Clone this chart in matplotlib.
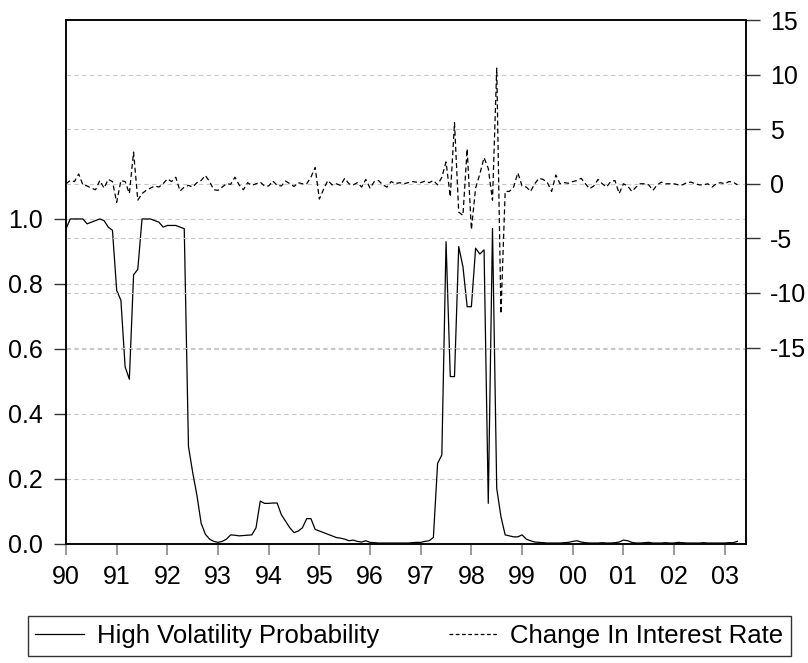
import numpy as np
import matplotlib
matplotlib.use("Agg")
import matplotlib.pyplot as plt
from matplotlib.lines import Line2D

plt.rcParams["font.family"] = ["Liberation Sans", "DejaVu Sans"]
plt.rcParams["axes.unicode_minus"] = False

# monthly data, 1990M01 onwards
start_year = 1990
high_vol_prob = [
    0.97, 1.0, 1.0, 1.0, 1.0, 0.985, 0.99, 0.995, 1.0, 0.995,
    0.975, 0.965, 0.78, 0.75, 0.545, 0.507, 0.828, 0.845, 1.0, 1.0,
    1.0, 0.995, 0.99, 0.975, 0.98, 0.98, 0.98, 0.975, 0.97, 0.30,
    0.22, 0.15, 0.064, 0.03, 0.015, 0.008, 0.005, 0.008, 0.015, 0.028,
    0.027, 0.025, 0.026, 0.027, 0.028, 0.05, 0.132, 0.125, 0.125, 0.126,
    0.126, 0.09, 0.07, 0.05, 0.035, 0.04, 0.05, 0.078, 0.078, 0.045,
    0.04, 0.035, 0.03, 0.025, 0.02, 0.018, 0.015, 0.01, 0.012, 0.008,
    0.006, 0.01, 0.005, 0.004, 0.003, 0.003, 0.003, 0.003, 0.003, 0.003,
    0.003, 0.003, 0.004, 0.005, 0.005, 0.008, 0.01, 0.02, 0.248, 0.274,
    0.93, 0.515, 0.515, 0.915, 0.853, 0.73, 0.73, 0.91, 0.892, 0.905,
    0.125, 0.971, 0.171, 0.084, 0.028, 0.025, 0.022, 0.022, 0.028, 0.015,
    0.01, 0.006, 0.005, 0.004, 0.003, 0.003, 0.003, 0.003, 0.004, 0.005,
    0.008, 0.01, 0.006, 0.004, 0.003, 0.003, 0.003, 0.004, 0.003, 0.003,
    0.004, 0.006, 0.012, 0.01, 0.005, 0.003, 0.003, 0.004, 0.005, 0.003,
    0.003, 0.003, 0.004, 0.003, 0.003, 0.005, 0.004, 0.003, 0.003, 0.003,
    0.003, 0.004, 0.003, 0.003, 0.003, 0.003, 0.003, 0.004, 0.004, 0.008,
]
rate_change = [
    0.0, 0.3, 0.2, 0.9, -0.1, -0.2, -0.4, -0.55, 0.3, -0.4,
    0.4, 0.2, -1.7, 0.3, 0.2, -0.9, 2.9, -1.5, -0.9, -0.6,
    -0.4, -0.2, -0.3, 0.0, 0.45, 0.2, 0.6, -0.67, -0.3, -0.15,
    -0.3, 0.1, 0.3, 0.76, 0.2, -0.55, -0.6, -0.3, 0.0, -0.05,
    0.6, -0.1, -0.55, 0.1, -0.15, 0.0, 0.15, -0.2, -0.2, 0.25,
    -0.15, -0.2, 0.25, 0.0, -0.25, 0.1, 0.0, 0.0, 0.6, 1.5,
    -1.4, -0.5, 0.3, -0.1, 0.0, -0.15, 0.5, 0.0, -0.1, 0.1,
    -0.3, 0.4, -0.4, 0.2, 0.3, -0.1, -0.3, 0.2, 0.0, 0.1,
    0.0, 0.1, 0.2, 0.15, 0.1, 0.25, 0.1, 0.3, -0.1, 0.6,
    2.0, -1.2, 5.6, -2.6, -2.9, 3.2, -4.2, -0.4, 0.9, 2.4,
    1.4, -1.5, 10.6, -11.9, -0.7, -0.7, -0.3, 1.0, -0.2, -0.3,
    -0.7, 0.0, 0.5, 0.4, 0.1, -0.7, 0.8, 0.0, 0.1, 0.05,
    0.2, 0.3, 0.5, 0.0, -0.45, -0.2, 0.4, 0.0, -0.3, 0.2,
    0.3, -0.9, 0.0, -0.2, -0.7, -0.3, 0.0, 0.0, -0.1, -0.6,
    -0.1, 0.15, 0.0, 0.0, 0.0, -0.1, -0.1, 0.1, 0.15, 0.0,
    -0.1, -0.1, 0.0, -0.3, 0.0, 0.1, 0.0, 0.2, 0.15, -0.1,
]
year_ticks = list(range(1990, 2004))
year_labels = [f"{y % 100:02d}" for y in year_ticks]
left_ticks = [0.0, 0.2, 0.4, 0.6, 0.8, 1.0]
right_ticks = [-15, -10, -5, 0, 5, 10, 15]

t = start_year + np.arange(len(high_vol_prob)) / 12.0

fig = plt.figure(figsize=(8.08, 6.63), dpi=100)
ax = fig.add_axes([0.0817, 0.1795, 0.8416, 0.7903])
ax2 = ax.twinx()

grid_kw = dict(color="#c8c8c8", lw=0.8, ls=(0, (4, 3)), zorder=0)
for v in left_ticks[1:]:
    ax.axhline(v, **grid_kw)
for v in right_ticks[:-1]:
    ax2.axhline(v, **grid_kw)

ax.plot(t, high_vol_prob, color="black", lw=0.9, zorder=3)
ax2.plot(t, rate_change, color="black", lw=0.9, ls=(0, (4, 2.5)), zorder=3)

ax.set_xlim(1990, 2003.42)
ax.set_ylim(0, 1.612)
ax2.set_ylim(-33, 15)

ax.set_yticks(left_ticks)
ax.set_yticklabels([f"{v:.1f}" for v in left_ticks])
ax2.set_yticks(right_ticks)
ax2.set_yticklabels([str(v) for v in right_ticks])
ax.set_xticks(year_ticks)
ax.set_xticklabels(year_labels)

ax.tick_params(axis="y", direction="out", length=9, width=1, pad=8, labelsize=18, color="#333333")
ax2.tick_params(axis="y", direction="out", length=10, width=1, pad=7, labelsize=18, color="#333333")
ax.tick_params(axis="x", direction="out", length=8, width=1.2, pad=7, labelsize=18, color="#888888")

for a in (ax, ax2):
    for s in a.spines.values():
        s.set_linewidth(1.1)
        s.set_color("black")

handles = [
    Line2D([0], [0], color="black", lw=0.9),
    Line2D([0], [0], color="black", lw=0.9, ls=(0, (3, 2))),
]
leg = fig.legend(
    handles,
    ["High Volatility Probability", "Change In Interest Rate"],
    loc="center",
    bbox_to_anchor=(0.5068, 0.0407),
    ncol=2,
    fontsize=18.5,
    frameon=True,
    fancybox=False,
    handlelength=1.9,
    handletextpad=0.5,
    columnspacing=2.7,
    borderpad=0.3,
    borderaxespad=0,
)
leg.get_frame().set_edgecolor("black")
leg.get_frame().set_linewidth(1.0)

fig.savefig("out.png", dpi=100)
plt.close(fig)
